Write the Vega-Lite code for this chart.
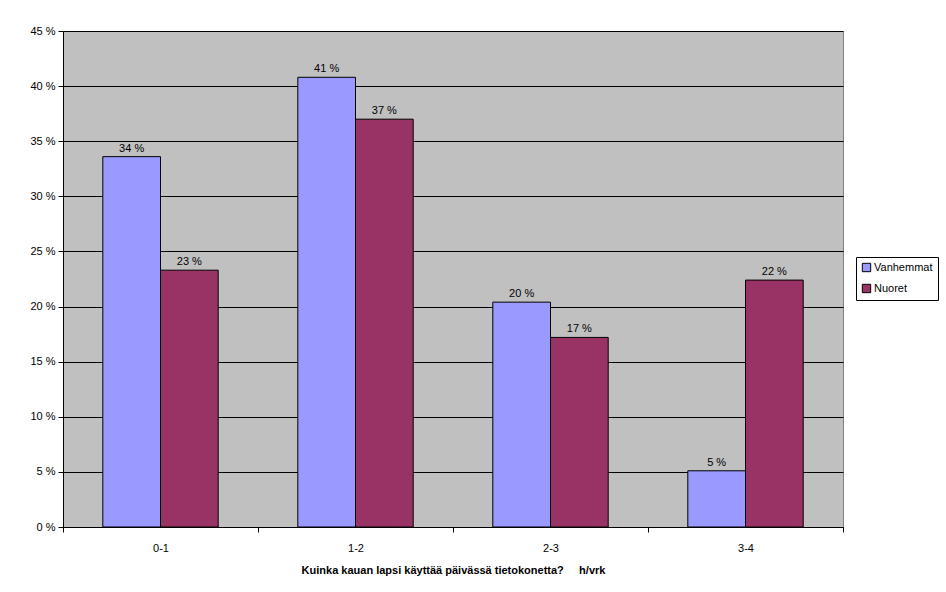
{
  "$schema": "https://vega.github.io/schema/vega-lite/v6.json",
  "width": 780,
  "height": 496,
  "autosize": "none",
  "padding": {"left": 63, "top": 31, "right": 103, "bottom": 65},
  "background": "white",
  "config": {
    "font": "Liberation Sans",
    "view": {"fill": "#C0C0C0", "stroke": "#808080", "strokeWidth": 1}
  },
  "data": {
    "values": [
      {"aika": "0-1", "ryhma": "Vanhemmat", "osuus": 33.6},
      {"aika": "0-1", "ryhma": "Nuoret", "osuus": 23.3},
      {"aika": "1-2", "ryhma": "Vanhemmat", "osuus": 40.8},
      {"aika": "1-2", "ryhma": "Nuoret", "osuus": 37.0},
      {"aika": "2-3", "ryhma": "Vanhemmat", "osuus": 20.4},
      {"aika": "2-3", "ryhma": "Nuoret", "osuus": 17.2},
      {"aika": "3-4", "ryhma": "Vanhemmat", "osuus": 5.1},
      {"aika": "3-4", "ryhma": "Nuoret", "osuus": 22.4}
    ]
  },
  "transform": [
    {"calculate": "format(datum.osuus, '.0f') + ' %'", "as": "teksti"}
  ],
  "encoding": {
    "x": {
      "field": "aika",
      "type": "nominal",
      "scale": {"paddingInner": 0, "paddingOuter": 0},
      "axis": {
        "title": "Kuinka kauan lapsi käyttää päivässä tietokonetta?\u00a0\u00a0\u00a0\u00a0\u00a0h/vrk",
        "titleFont": "Liberation Sans",
        "titleFontSize": 11,
        "titleFontWeight": "bold",
        "titleColor": "black",
        "titlePadding": 11,
        "labelAngle": 0,
        "labelFontSize": 11,
        "labelColor": "black",
        "labelPadding": 10,
        "tickBand": "extent",
        "tickColor": "black",
        "tickSize": 5,
        "domainColor": "black",
        "grid": false
      }
    },
    "xOffset": {
      "field": "ryhma",
      "type": "nominal",
      "sort": ["Vanhemmat", "Nuoret"],
      "scale": {"paddingInner": 0, "paddingOuter": 0.69}
    },
    "y": {
      "field": "osuus",
      "type": "quantitative",
      "scale": {"domain": [0, 45], "nice": false},
      "axis": {
        "title": null,
        "values": [0, 5, 10, 15, 20, 25, 30, 35, 40, 45],
        "labelExpr": "datum.value + ' %'",
        "labelFontSize": 11,
        "labelColor": "black",
        "labelPadding": 3,
        "tickColor": "black",
        "tickSize": 5,
        "domainColor": "black",
        "grid": true,
        "gridColor": "black",
        "gridOpacity": 1,
        "gridWidth": 1
      }
    }
  },
  "layer": [
    {
      "mark": {"type": "bar", "stroke": "black", "strokeWidth": 1},
      "encoding": {
        "color": {
          "field": "ryhma",
          "type": "nominal",
          "sort": ["Vanhemmat", "Nuoret"],
          "scale": {"domain": ["Vanhemmat", "Nuoret"], "range": ["#9999FF", "#993366"]},
          "legend": {
            "title": null,
            "orient": "none",
            "legendX": 793,
            "legendY": 226,
            "symbolType": "square",
            "symbolSize": 70,
            "symbolStrokeColor": "black",
            "symbolStrokeWidth": 1,
            "labelFontSize": 11,
            "labelColor": "black",
            "labelOffset": 2,
            "rowPadding": 8,
            "strokeColor": "black",
            "fillColor": "white",
            "padding": 5
          }
        }
      }
    },
    {
      "mark": {"type": "text", "baseline": "bottom", "dy": -3, "fontSize": 11, "color": "black"},
      "encoding": {
        "text": {"field": "teksti"}
      }
    }
  ]
}
